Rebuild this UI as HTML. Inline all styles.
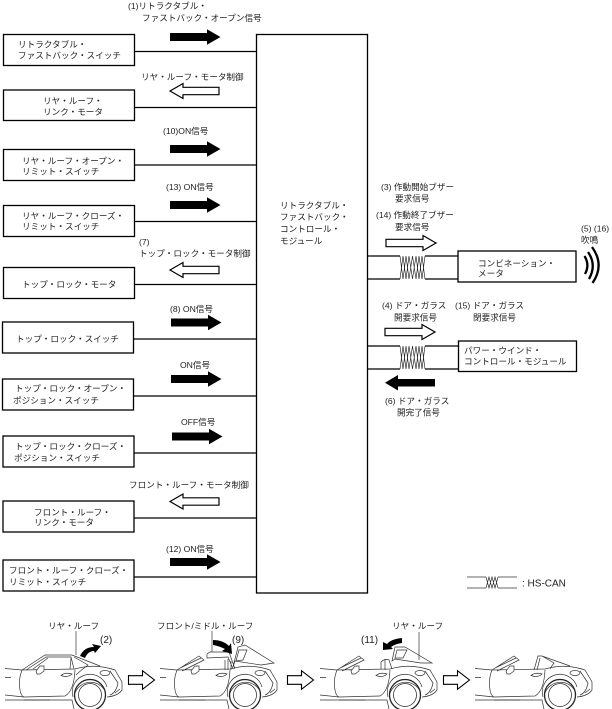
<!DOCTYPE html>
<html lang="ja"><head><meta charset="utf-8"><title>Diagram</title>
<style>
html,body{margin:0;padding:0;background:#fff;width:612px;height:709px;overflow:hidden}
svg{display:block}
text{font-family:"Liberation Sans","Noto Sans CJK JP",sans-serif;font-size:8.6px;fill:#222}
.big{font-size:10px}
.b{fill:#fff;stroke:#000;stroke-width:1.3}
.l{stroke:#000;stroke-width:1.2;fill:none}
.c{stroke:#333;stroke-width:.7;fill:none}
.t{stroke:#222;stroke-width:.65;fill:none}
</style></head><body>
<svg width="612" height="709" viewBox="0 0 612 709" xmlns="http://www.w3.org/2000/svg">
<defs>
<path id="ar" d="M0 -4H37V-7.800L50.500 0L37 7.800V4H0Z" fill="#000"/>
<path id="ol" d="M0 0L13 -7.500V-3.700H49V3.700H13V7.500Z" fill="#fff" stroke="#000" stroke-width="1.200"/>
<path id="or" d="M0 -3.700H37V-7.500L50 0L37 7.500V3.700H0Z" fill="#fff" stroke="#000" stroke-width="1.200"/>
<path id="big" d="M0 -4.300H14V-9.300L26 0L14 9.300V4.300H0Z" fill="#fff" stroke="#000" stroke-width="1.100"/>
<g id="tw"><path class="t" d="M0 0L3 23L6 0L9 23L12.500 0L16 23L19 0L22 23L25 0"/><path class="t" d="M0 23L3 0L6 23L9 0L12.500 23L16 0L19 23L22 0L25 23"/></g>
<g id="body">
<path class="c" d="M5 43.500L22 45L75 44Q95 38 115 45L122 57V65Q118 71 107 72"/>
<path class="c" d="M22 45Q18 55 20 65Q21 71 24 72L65 71Q74 66 75 45"/>
<path class="c" d="M73 72A17.500 17.500 0 0 1 107 62"/>
<path class="c" d="M5 70L24 72M5 75H72L74 84"/>
<path class="c" d="M24 75H50" stroke-width="1"/>
<path class="c" d="M5 52.500H11M61 50.500Q65 47 72 49Q68 53 61 50.500Z"/>
<ellipse class="c" cx="105" cy="48" rx="5" ry="2.500"/>
<path class="c" d="M110 46L118 58Q116 68 110 70M115 68L120 64"/>
<circle cx="90" cy="70" r="15.500" fill="#fff" stroke="#222" stroke-width="1.300"/>
<circle cx="90" cy="70" r="11.500" fill="#fff" stroke="#333" stroke-width=".8"/>
<path class="c" d="M75 68A16.500 16.500 0 0 1 105 66"/>
</g>
<g id="ws">
<path class="c" d="M22 45L44 31L49 35L27 46M25 43L46 33"/>
<path d="M36 46L40 41H44V46L40 49H37Z" fill="#fff" stroke="#333" stroke-width=".7"/>
</g>
</defs>
<rect class="b" x="3.500" y="34.500" width="131" height="31"/>
<rect class="b" x="3.500" y="90" width="131" height="30.500"/>
<rect class="b" x="3.500" y="149.500" width="131" height="31"/>
<rect class="b" x="3.500" y="205.500" width="131" height="31"/>
<rect class="b" x="3.500" y="267.500" width="131" height="31"/>
<rect class="b" x="2.500" y="322" width="131" height="31"/>
<rect class="b" x="2.500" y="379" width="131" height="31"/>
<rect class="b" x="3" y="436" width="131" height="31"/>
<rect class="b" x="3" y="501" width="131" height="31"/>
<rect class="b" x="3" y="560" width="131" height="31"/>
<path class="l" d="M134 51.500H256M134 107.500H256M134 165H256M134 221.500H256M134 284.500H256M133 339H256M133 396H256M134 453H256M134 518H256M134 577H256"/>
<rect class="b" x="256.500" y="34.500" width="111" height="558.500"/>

<use href="#ar" x="170" y="37"/>
<use href="#ol" x="170" y="91"/>
<use href="#ar" x="170" y="149"/>
<use href="#ar" x="170" y="205"/>
<use href="#ol" x="170" y="270"/>
<use href="#ar" x="171" y="322.500"/>
<use href="#ar" x="171" y="379"/>
<use href="#ar" x="172" y="436.500"/>
<use href="#ol" x="170" y="501.500"/>
<use href="#ar" x="170" y="562"/>
<use href="#or" x="386" y="243"/>
<use href="#or" x="385" y="332"/>
<path d="M385 382.700L398 375V379H435V386.500H398V390.500Z" fill="#000"/>

<path class="l" d="M367 256H400M367 279H400M425 256H458M425 279H458M367 346H400M367 369H400M425 346H458M425 369H458" stroke-width="1"/>
<use href="#tw" x="400" y="256"/>
<use href="#tw" x="400" y="346"/>
<rect class="b" x="458" y="251" width="118" height="31"/>
<rect class="b" x="458.500" y="341" width="118" height="30.500"/>
<path d="M584.500 256Q590 265 585 274M588 252Q597 265 589 279M592 247Q605 265 592.500 283" fill="none" stroke="#000" stroke-width="2.300"/>

<path class="c" d="M467 577H486M467 588H486M498 577H517M498 588H517" stroke-width=".9"/>
<path class="t" d="M486 577L489 588L492 577L495 588L498 577M486 588L489 577L492 588L495 577L498 588"/>
<text class="big" x="522" y="586.500">: HS-CAN</text>

<text x="128" y="9">(1)リトラクタブル・</text><text x="142" y="21">ファストバック・オープン信号</text>
<text x="18" y="47.500">リトラクタブル・</text><text x="18" y="58.500">ファストバック・スイッチ</text>
<text x="141" y="80">リヤ・ルーフ・モータ制御</text>
<text x="43" y="104">リヤ・ルーフ・</text><text x="43" y="115">リンク・モータ</text>
<text x="163" y="134">(10)ON信号</text>
<text x="22" y="164">リヤ・ルーフ・オープン・</text><text x="22" y="174.500">リミット・スイッチ</text>
<text x="166" y="190">(13) ON信号</text>
<text x="22" y="219">リヤ・ルーフ・クローズ・</text><text x="22" y="229.500">リミット・スイッチ</text>
<text x="139" y="245">(7)</text><text x="139" y="256.500">トップ・ロック・モータ制御</text>
<text x="22" y="287.500">トップ・ロック・モータ</text>
<text x="170" y="312">(8) ON信号</text>
<text x="16" y="342">トップ・ロック・スイッチ</text>
<text x="180" y="368">ON信号</text>
<text x="15" y="391.500">トップ・ロック・オープン・</text><text x="13" y="403.500">ポジション・スイッチ</text>
<text x="181" y="425">OFF信号</text>
<text x="15" y="449.500">トップ・ロック・クローズ・</text><text x="14" y="461">ポジション・スイッチ</text>
<text x="129" y="488">フロント・ルーフ・モータ制御</text>
<text x="34" y="515.500">フロント・ルーフ・</text><text x="34" y="525.500">リンク・モータ</text>
<text x="166" y="552">(12) ON信号</text>
<text x="9" y="573.500">フロント・ルーフ・クローズ・</text><text x="9" y="585">リミット・スイッチ</text>
<text x="280" y="208.500">リトラクタブル・</text><text x="280" y="220">ファストバック・</text><text x="280" y="232">コントロール・</text><text x="280" y="244">モジュール</text>
<text x="381" y="190">(3) 作動開始ブザー</text><text x="395" y="201.500">要求信号</text>
<text x="376" y="218">(14) 作動終了ブザー</text><text x="395" y="230">要求信号</text>
<text x="581" y="231.500">(5) (16)</text><text x="581" y="243">吹鳴</text>
<text x="478" y="266.500">コンビネーション・</text><text x="478" y="276.500">メータ</text>
<text x="382" y="308.500">(4) ドア・ガラス</text><text x="394" y="320.500">開要求信号</text>
<text x="455" y="308.500">(15) ドア・ガラス</text><text x="473" y="320.500">閉要求信号</text>
<text x="464" y="353.500">パワー・ウインド・</text><text x="464" y="364.500">コントロール・モジュール</text>
<text x="385" y="404">(6) ドア・ガラス</text><text x="397" y="415.500">開完了信号</text>

<text x="48" y="629">リヤ・ルーフ</text><text class="big" x="100" y="643">(2)</text>
<text x="157" y="629">フロント/ミドル・ルーフ</text><text class="big" x="232" y="643">(9)</text>
<text x="392" y="629">リヤ・ルーフ</text><text class="big" x="361" y="643">(11)</text>

<use href="#big" x="128.500" y="680"/>
<use href="#big" x="287.500" y="680"/>
<use href="#big" x="443.500" y="680"/>

<!-- car 1 -->
<g transform="translate(0,625)">
<use href="#body"/>
<path class="c" d="M22 45L45 30H72L100 41"/>
<path class="c" d="M26 45L46 32H71L74 44M48 33L33 44M71 33L70 44"/>
<path class="c" d="M74 32L88 40Q80 46 76 50"/>
<path d="M36 46L40 41H44V46L40 49H37Z" fill="#fff" stroke="#333" stroke-width=".7"/>
<path d="M80 31Q84 22 94 22L92 19L101 21L95 28L94 26Q88 26 85 33Z" fill="#000"/>
</g>
<path class="c" d="M76 631V655"/>
<!-- car 2 -->
<g transform="translate(155,625)">
<use href="#body"/>
<use href="#ws"/>
<path class="c" d="M52 29L55 27H74L80 44M52 29V33L73 32L78 44M70 35V45M73 34V45M76 36V45"/>
<path d="M78 42L83 22L90 20L119 38L106 40L80 36ZM84 25L81 36L88 35L92 25Z" fill="#fff" stroke="#333" stroke-width=".7"/>
<path d="M58 15Q68 15 74 21L76 18L77 29L67 26L70 24Q64 21 58 20Z" fill="#000"/>
</g>
<path class="c" d="M212 631V652"/>
<!-- car 3 -->
<g transform="translate(315,625)">
<use href="#body"/>
<use href="#ws"/>
<path class="c" d="M66 44V37Q70 33 74 35L77 44M70 34V45"/>
<path d="M77 36L80 22L90 22L117 38L106 38L80 34ZM82 25L80 33L88 33L92 25Z" fill="#fff" stroke="#333" stroke-width=".7"/>
<path d="M87 13Q76 14 72 19L68 17L68 25L78 24L76 22Q80 19 87 18Z" fill="#000"/>
</g>
<path class="c" d="M419 632V660"/>
<!-- car 4 -->
<g transform="translate(470,625)">
<use href="#body"/>
<use href="#ws"/>
<path class="c" d="M64 45L68 31H72L100 41M67 45L70 33M72 31L84 38Q81 42 80 44"/>
</g>
</svg>
</body></html>
